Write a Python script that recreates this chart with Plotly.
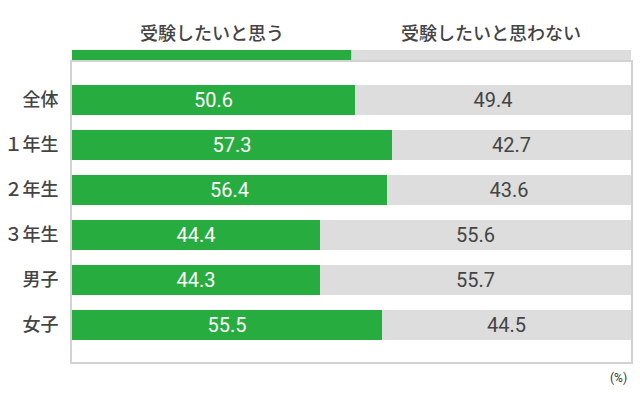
import plotly.graph_objects as go

categories = ["全体", "１年生", "２年生", "３年生", "男子", "女子"]
yes_values = [50.6, 57.3, 56.4, 44.4, 44.3, 55.5]
no_values = [49.4, 42.7, 43.6, 55.6, 55.7, 44.5]
series_names = ["受験したいと思う", "受験したいと思わない"]

GREEN = "#27ac40"
GRAY = "#dcdddc"
FONT = "Roboto, 'Noto Sans CJK JP', sans-serif"
JP = "'Noto Sans CJK JP', sans-serif"

pos = list(range(len(categories)))

fig = go.Figure()
fig.add_trace(go.Bar(
    y=pos, x=yes_values, orientation="h", width=0.667,
    marker=dict(color=GREEN, line=dict(width=0)),
    text=[f"{v:.1f}" for v in yes_values], textposition="inside",
    insidetextanchor="middle", textfont=dict(size=20, color="white", family=FONT),
    name=series_names[0], hoverinfo="skip",
))
fig.add_trace(go.Bar(
    y=pos, x=no_values, orientation="h", width=0.667,
    marker=dict(color=GRAY, line=dict(width=0)),
    text=[f"{v:.1f}" for v in no_values], textposition="inside",
    insidetextanchor="middle", textfont=dict(size=20, color="#444444", family=FONT),
    name=series_names[1], hoverinfo="skip",
))

# legend bar (50/50 split) above plot
fig.add_shape(type="rect", xref="x", yref="paper", x0=0, x1=50, y0=1.0067, y1=1.04,
              fillcolor=GREEN, line=dict(width=0))
fig.add_shape(type="rect", xref="x", yref="paper", x0=50, x1=100, y0=1.0067, y1=1.04,
              fillcolor=GRAY, line=dict(width=0))
for xc, name in zip([25, 75], series_names):
    fig.add_annotation(x=xc, xref="x", y=1.10, yref="paper", text=name, showarrow=False,
                       font=dict(size=18, color="#444444", family=JP, weight=500),
                       xanchor="center", yanchor="middle")

fig.add_annotation(x=0.996, xref="paper", y=-0.053, yref="paper", text="(%)", showarrow=False,
                   font=dict(size=12, color="#333333", family=FONT), xanchor="right", yanchor="middle")

fig.update_layout(
    barmode="stack",
    width=640, height=400,
    margin=dict(l=72, r=9, t=62, b=38),
    plot_bgcolor="white", paper_bgcolor="white",
    showlegend=False,
    bargap=0,
)
fig.update_xaxes(range=[0, 100], showgrid=False, zeroline=False, showticklabels=False,
                 showline=True, mirror=True, linecolor="#d2d2d2", linewidth=2, automargin=False)
fig.update_yaxes(range=[5.822, -0.844], tickvals=pos, ticktext=categories, showgrid=False,
                 zeroline=False, showline=True, mirror=True, linecolor="#d2d2d2", linewidth=2,
                 ticks="", ticklabelstandoff=8, automargin=False,
                 tickfont=dict(size=18, color="#444444", family=JP, weight=500))

fig.write_html("out.html")
